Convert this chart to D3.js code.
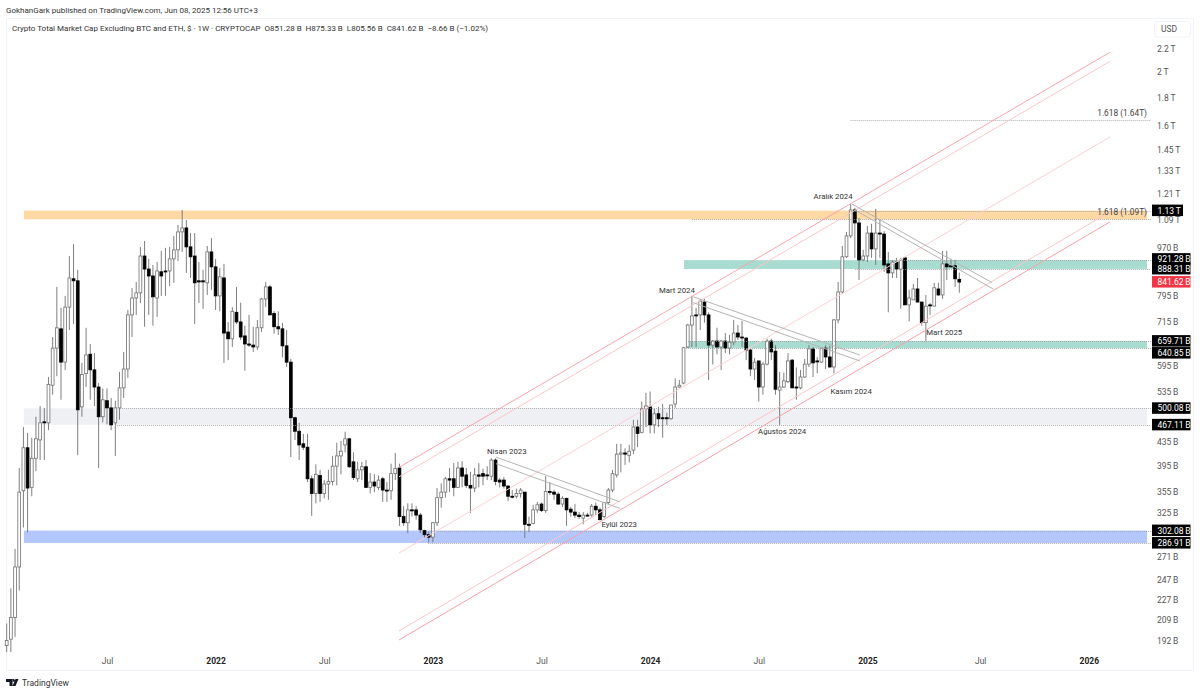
<html lang="en">

<head>
    <meta charset="utf-8">
    <title>Crypto Total Market Cap Excluding BTC and ETH</title>
    <style>
        html, body {
            margin: 0;
            padding: 0;
            background: white;
        }

        svg {
            display: block;
            font-family: Roboto, sans-serif;
        }

        .axis path,
        .axis line {
            display: none;
        }

        .axis text {
            font-family: Roboto, sans-serif;
            font-size: 8.5px;
            fill: #555;
        }
    </style>
</head>

<body>
    <div id="chart"></div>
    <script src="https://cdn.jsdelivr.net/npm/d3@7"></script>
    <script type="text/javascript">
        // weekly candles, values in billions of USD, first week is Jan 18 2021
        var opens = [
            188,193,211,260,356,425,361,407,439,473,
            471,550,641,694,605,759,853,846,503,577,
            625,586,546,483,516,501,471,501,544,588,
            735,788,805,937,888,863,788,878,881,881,
            926,961,1035,1052,973,937,846,846,839,953,
            896,795,856,685,666,743,714,674,652,649,
            644,697,785,825,739,700,694,647,605,481,
            455,432,426,374,352,379,352,366,370,394,
            411,430,441,401,374,388,393,361,369,361,
            374,357,356,382,391,320,312,329,329,322,
            302,297,294,312,346,354,374,374,361,391,
            380,364,360,380,382,380,378,404,372,372,
            363,348,348,352,354,310,311,329,337,328,
            355,354,351,337,345,330,326,322,318,322,
            322,334,329,320,339,357,380,414,416,412,
            421,463,453,499,503,467,489,481,481,479,
            509,546,555,644,705,735,735,775,735,649,
            660,644,660,641,657,682,671,668,636,588,
            608,546,600,660,633,539,546,558,610,546,
            544,569,600,639,608,605,641,618,593,720,
            808,934,1018,1133,1074,922,937,1030,965,1030,
            1026,907,874,914,888,930,766,782,818,775,
            712,766,762,818,798,907,900,900,851.28
        ];
        var highs = [
            206,238,280,391,463,452,443,483,505,501,
            569,671,825,757,795,937,984,885,603,697,
            652,628,555,543,543,522,516,581,631,750,
            821,842,973,997,926,903,914,957,969,973,
            1018,1065,1133,1087,1030,1030,914,885,977,1009,
            926,892,907,714,759,825,773,703,735,700,
            720,788,842,832,746,746,711,691,613,483,
            471,450,450,379,397,388,372,388,411,434,
            437,454,443,417,401,401,404,383,381,379,
            377,369,398,416,398,334,338,338,334,325,
            303,300,313,360,367,377,391,399,401,402,
            391,385,391,399,390,394,407,407,375,377,
            364,357,359,360,354,320,336,340,339,378,
            369,357,354,348,346,333,337,326,326,325,
            337,339,332,339,360,388,432,432,424,430,
            477,477,514,533,536,499,503,509,491,507,
            566,562,644,708,795,757,785,785,743,663,
            697,663,682,677,720,705,717,671,639,615,
            608,605,666,666,649,581,579,628,613,592,
            586,613,649,644,618,644,649,647,723,842,
            977,1035,1162,1143,1096,961,1061,1070,1138,1087,
            1039,953,922,930,930,934,815,835,856,775,
            798,772,839,839,957,957,926,922,875.33
        ];
        var lows = [
            183,183,195,236,306,300,348,386,404,404,
            457,529,571,518,586,691,708,412,483,546,
            518,505,391,472,468,457,411,477,522,567,
            671,735,772,700,735,703,729,795,795,828,
            839,918,953,874,856,708,772,754,798,815,
            750,746,603,610,644,708,663,584,644,631,
            636,685,759,735,680,677,617,593,409,439,
            404,421,369,321,338,340,345,343,364,364,
            381,417,391,372,369,372,360,352,354,357,
            340,340,343,372,308,308,299,320,316,299,
            293,288,288,308,332,346,354,348,360,361,
            360,325,354,361,364,372,372,364,361,359,
            341,345,345,346,293,300,310,325,326,325,
            350,343,336,333,308,320,318,317,310,320,
            320,322,315,318,336,354,376,384,396,400,
            414,426,451,463,451,451,463,443,467,477,
            501,544,552,642,644,644,691,712,562,599,
            625,586,628,625,649,663,644,610,571,562,
            514,529,597,610,529,467,544,555,544,518,
            541,567,593,569,578,603,588,591,578,710,
            802,930,1009,930,849,918,914,930,903,930,
            878,743,856,856,754,766,716,782,775,703,
            660,735,762,795,785,849,893,825,805.56
        ];
        var closes = [
            192,211,260,354,425,360,407,441,471,471,
            552,641,697,605,759,856,846,497,575,623,
            586,546,483,518,501,467,501,544,588,735,
            788,805,937,888,863,792,881,863,878,926,
            961,1035,1052,973,934,839,842,842,953,896,
            795,860,682,666,746,714,671,652,649,644,
            697,785,825,735,700,694,647,605,481,455,
            430,426,374,352,381,352,366,370,394,411,
            419,441,393,376,388,393,361,369,363,372,
            357,356,382,390,320,312,329,328,322,303,
            297,294,312,346,354,374,372,361,391,378,
            364,360,380,378,378,379,404,370,369,363,
            348,347,352,357,310,309,329,336,328,355,
            354,351,337,345,329,326,322,320,322,321,
            334,329,316,339,357,382,414,416,414,419,
            463,451,499,505,467,489,479,479,479,507,
            546,550,642,705,732,732,778,735,649,660,
            644,660,641,657,682,671,670,636,588,605,
            546,600,660,631,541,546,560,608,544,545,
            569,600,639,603,606,641,618,593,720,808,
            934,1018,1133,1074,922,937,1030,965,1030,1028,
            903,874,914,888,922,766,788,818,775,712,
            762,764,822,798,907,896,896,853,841.62
        ];

        // axes
        var timeTickWeeks = [24, 50, 76, 102, 128, 154, 180, 206, 233, 259];
        var timeTickLabels = ["Jul", "2022", "Jul", "2023", "Jul", "2024", "Jul", "2025", "Jul", "2026"];
        var priceTicks = [2200, 2000, 1800, 1600, 1450, 1330, 1210, 1090, 970, 795, 715, 595, 535, 435, 395, 355, 325, 271, 247, 227, 209, 192];

        // zones: from week, to week, top, bottom
        var zoneNames = ["orange", "teal1", "teal2", "gray", "blue"];
        var zoneFromWeek = [4.1, 162.1, 162.6, 4.1, 4.1];
        var zoneTops = [1130, 921.28, 659.71, 500.08, 302.08];
        var zoneBottoms = [1090, 888.31, 640.85, 467.11, 286.91];

        // dotted level lines: from week, value
        var levelWeeks = [202, 202, 164, 211.4, 203, 162.6, 162.6, 27.1, 25.9, 100.8, 100.8];
        var levelValues = [1640, 1130, 1090, 921.28, 888.31, 659.71, 640.85, 500.08, 467.11, 302.08, 286.91];

        // channel lines, all run from week 93.9 to week 264.1
        var channelStartValues = [392, 377, 275.4, 199.7, 192.4];
        var channelEndValues = [2171, 2092, 1531, 1125, 1079];
        var channelColors = ["#f8a5ad", "#fbc6ca", "#fcd0d3", "#fbc6ca", "#f6a0a8"];

        // falling trend lines
        var trendWeeks1 = [117.1, 117.1, 164.3, 164.3, 202.3, 203];
        var trendValues1 = [409, 398, 792, 773, 1161, 1133];
        var trendWeeks2 = [146.8, 146.8, 204.2, 204.2, 235.8, 236.1];
        var trendValues2 = [340, 331, 623, 608, 840, 818];

        // notes on the chart
        var noteLabels = ["Aralık 2024", "Mart 2024", "Nisan 2023", "Eylül 2023", "Kasım 2024", "Ağustos 2024", "Mart 2025"];
        var noteWeeks = [197.8, 160.4, 119.7, 146.6, 202.1, 185.6, 224.4];
        var noteValues = [1200, 815, 419, 310, 537, 456, 685];

        // price tags on the right axis
        var tagLabels = ["1.13\u2009T", "921.28\u2009B", "888.31\u2009B", "841.62\u2009B", "659.71\u2009B", "640.85\u2009B", "500.08\u2009B", "467.11\u2009B", "302.08\u2009B", "286.91\u2009B"];
        var tagValues = [1130, 925, 888.31, 841.62, 659.71, 628, 500.08, 467.11, 302.08, 286.91];

        var width = 1200;
        var height = 694;

        var svg = d3.select("#chart").append("svg")
            .attr("width", width)
            .attr("height", height);

        var xScale = d3.scaleLinear().domain([0, 228]).range([6.7, 959.3]);
        var yScale = d3.scaleLog().domain([192, 2200]).range([640.5, 49]);

        draw_frame();
        draw_zones();
        draw_candles();
        draw_levels();
        draw_lines();
        draw_notes();
        draw_axes();
        draw_tags();
        draw_header();

        function draw_frame() {
            svg.append("rect")
                .attr("x", 6.5)
                .attr("y", 18.5)
                .attr("width", 1187)
                .attr("height", 652)
                .attr("fill", "white")
                .attr("stroke", "#f0f3fa");
        }

        function draw_zones() {
            var zoneColors = { orange: "#ffd9a3", teal1: "#a8dcd1", teal2: "#a8dcd1", gray: "#eef0f4", blue: "#b4c7fd" };
            svg.selectAll(".zone")
                .data(zoneNames)
                .enter()
                .append("rect")
                .attr("class", "zone")
                .attr("x", function(d, i) { return xScale(zoneFromWeek[i]); })
                .attr("y", function(d, i) { return yScale(zoneTops[i]); })
                .attr("width", function(d, i) { return 1147 - xScale(zoneFromWeek[i]); })
                .attr("height", function(d, i) { return yScale(zoneBottoms[i]) - yScale(zoneTops[i]); })
                .attr("fill", function(d) { return zoneColors[d]; });
        }

        function draw_candles() {
            var g = svg.append("g");
            for (var i = 0; i < opens.length; i++) {
                var x = xScale(i);
                var up = closes[i] >= opens[i];
                g.append("line")
                    .attr("x1", x)
                    .attr("x2", x)
                    .attr("y1", yScale(highs[i]))
                    .attr("y2", yScale(lows[i]))
                    .attr("stroke", "#707070")
                    .attr("stroke-width", 0.9);
                var top = yScale(Math.max(opens[i], closes[i]));
                var bottom = yScale(Math.min(opens[i], closes[i]));
                g.append("rect")
                    .attr("x", x - 1.4)
                    .attr("y", top)
                    .attr("width", 2.8)
                    .attr("height", Math.max(bottom - top, 1))
                    .attr("fill", up ? "white" : "black")
                    .attr("stroke", up ? "#707070" : "black")
                    .attr("stroke-width", 0.8);
            }
        }

        function draw_levels() {
            svg.selectAll(".level")
                .data(levelValues)
                .enter()
                .append("line")
                .attr("class", "level")
                .attr("x1", function(d, i) { return xScale(levelWeeks[i]); })
                .attr("x2", 1151)
                .attr("y1", function(d) { return Math.round(yScale(d)) + 0.5; })
                .attr("y2", function(d) { return Math.round(yScale(d)) + 0.5; })
                .attr("stroke", "#9a9a9a")
                .attr("stroke-width", 0.8)
                .attr("stroke-dasharray", "1 1");
        }

        function draw_lines() {
            svg.selectAll(".channel")
                .data(channelStartValues)
                .enter()
                .append("line")
                .attr("class", "channel")
                .attr("x1", xScale(93.9))
                .attr("x2", xScale(264.1))
                .attr("y1", function(d) { return yScale(d); })
                .attr("y2", function(d, i) { return yScale(channelEndValues[i]); })
                .attr("stroke", function(d, i) { return channelColors[i]; })
                .attr("stroke-width", 1);

            svg.selectAll(".trend")
                .data(trendWeeks1)
                .enter()
                .append("line")
                .attr("class", "trend")
                .attr("x1", function(d) { return xScale(d); })
                .attr("x2", function(d, i) { return xScale(trendWeeks2[i]); })
                .attr("y1", function(d, i) { return yScale(trendValues1[i]); })
                .attr("y2", function(d, i) { return yScale(trendValues2[i]); })
                .attr("stroke", "#b4b4b4")
                .attr("stroke-width", 1);
        }

        function draw_notes() {
            svg.selectAll(".note")
                .data(noteLabels)
                .enter()
                .append("text")
                .attr("class", "note")
                .text(function(d) { return d; })
                .attr("x", function(d, i) { return xScale(noteWeeks[i]); })
                .attr("y", function(d, i) { return yScale(noteValues[i]) + 3; })
                .attr("text-anchor", "middle")
                .attr("font-size", "7.8px")
                .attr("fill", "#333");

            svg.append("text").text("1.618 (1.64T)")
                .attr("x", 1147).attr("y", yScale(1670))
                .attr("text-anchor", "end").attr("font-size", "8.3px").attr("fill", "#444");
            svg.append("text").text("1.618 (1.09T)")
                .attr("x", 1147).attr("y", yScale(1110))
                .attr("text-anchor", "end").attr("font-size", "8.3px").attr("fill", "#444");
        }

        function draw_axes() {
            var xAxis = d3.axisBottom(xScale)
                .tickValues(timeTickWeeks)
                .tickSize(0)
                .tickPadding(0)
                .tickFormat(function(d, i) { return timeTickLabels[i]; });

            var xGroup = svg.append("g")
                .attr("class", "axis")
                .attr("transform", "translate(0,658)")
                .call(xAxis);

            xGroup.selectAll("text")
                .style("font-weight", function(d, i) { return timeTickLabels[i] == "Jul" ? "normal" : "bold"; })
                .style("fill", function(d, i) { return timeTickLabels[i] == "Jul" ? "#555" : "#222"; });

            var yAxis = d3.axisRight(yScale)
                .tickValues(priceTicks)
                .tickSize(0)
                .tickPadding(0)
                .tickFormat(function(d) {
                    return d >= 1000 ? (d / 1000) + "\u2009T" : d + "\u2009B";
                });

            svg.append("g")
                .attr("class", "axis")
                .attr("transform", "translate(1157,0)")
                .call(yAxis);
        }

        function draw_tags() {
            var tags = svg.selectAll(".tag")
                .data(tagLabels)
                .enter()
                .append("g")
                .attr("class", "tag")
                .attr("transform", function(d, i) { return "translate(1152," + yScale(tagValues[i]) + ")"; });

            tags.append("rect")
                .attr("y", -6)
                .attr("width", function(d, i) { return i == 0 ? 31 : 38.5; })
                .attr("height", 11.5)
                .attr("fill", function(d, i) { return i == 3 ? "#f23645" : "black"; });

            tags.append("text")
                .text(function(d) { return d; })
                .attr("x", 5.5)
                .attr("y", 3)
                .attr("font-size", "8.5px")
                .attr("fill", "white");
        }

        function draw_header() {
            svg.append("text")
                .text("GokhanGark published on TradingView.com, Jun 08, 2025 12:56 UTC+3")
                .attr("x", 6).attr("y", 13)
                .attr("font-size", "8px").attr("fill", "#333");

            svg.append("text")
                .text("Crypto Total Market Cap Excluding BTC and ETH, $ · 1W · CRYPTOCAP  O851.28 B  H875.33 B  L805.56 B  C841.62 B  −8.66 B (−1.02%)")
                .attr("x", 12).attr("y", 31)
                .attr("xml:space", "preserve")
                .attr("font-size", "8px").attr("fill", "#333");

            svg.append("rect")
                .attr("x", 1154.5).attr("y", 21.5)
                .attr("width", 36).attr("height", 15.5).attr("rx", 3)
                .attr("fill", "white").attr("stroke", "#f0f3fa");
            svg.append("text").text("USD")
                .attr("x", 1161).attr("y", 32)
                .attr("font-size", "8.5px").attr("fill", "#555");

            // footer logo
            svg.append("path")
                .attr("d", "M6 679h6.5v7h-3v-4h-3.5z M13.5 679a1.4 1.4 0 1 0 .01 0z M15.5 686l3-7h-3l-3 7z")
                .attr("fill", "#131722");
            svg.append("text").text("TradingView")
                .attr("x", 22).attr("y", 686)
                .attr("font-size", "8.5px").attr("fill", "#333");
        }
    </script>
</body>

</html>
